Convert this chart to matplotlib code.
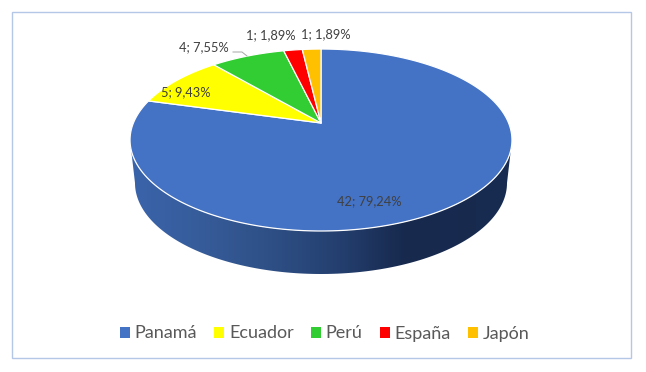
import numpy as np
import matplotlib
matplotlib.use("Agg")
import matplotlib.pyplot as plt
from matplotlib.colors import LinearSegmentedColormap
from matplotlib.patches import Polygon, Rectangle

paises = ["Panamá", "Ecuador", "Perú", "España", "Japón"]
casos = [42, 5, 4, 1, 1]
porcentajes = [79.24, 9.43, 7.55, 1.89, 1.89]
colores = ["#4472C4", "#FFFF00", "#32CD32", "#FF0000", "#FFC000"]

plt.rcParams["font.family"] = ["Lato", "DejaVu Sans"]

fig = plt.figure(figsize=(6.46, 3.72), dpi=100)
ax = fig.add_axes([0, 0, 1, 1])
ax.set_xlim(0, 646)
ax.set_ylim(372, 0)
ax.axis("off")

ax.add_patch(Rectangle((12, 11.5), 619, 346.5, fc="white", ec="#B4C7E7", lw=1))

# perspective of the disc: apex sits above the middle of the ellipse
cx, cy = 321, 123
k = 0.187
A = 87.8
B = 187.6


def proyectar(theta):
    u = np.sin(theta)
    v = np.cos(theta)
    w = 1 + k * v
    return cx + B * u / w, cy - A * v / w


# side wall with horizontal gradient
t = np.linspace(0, np.pi, 200)
top_x = 321 - 191 * np.cos(t)
top_y = 140 + 91 * np.sin(t)
base_x = 321 + 186 * np.cos(t)
base_y = 183 + 91 * np.sin(t)
pared = np.column_stack([np.r_[top_x, base_x], np.r_[top_y, base_y]])
cmap = LinearSegmentedColormap.from_list(
    "pared",
    [(0, "#3A64AB"), (0.18, "#365C9A"), (0.35, "#2F5188"), (0.55, "#243F6F"),
     (0.72, "#17294D"), (1, "#182B50")],
)
img = ax.imshow(
    np.linspace(0, 1, 256)[None, :], cmap=cmap, extent=(130, 512, 280, 135),
    aspect="auto", zorder=2,
)
ax.set_xlim(0, 646)
ax.set_ylim(372, 0)
clip = Polygon(pared, closed=True, transform=ax.transData, fc="none", ec="none")
ax.add_patch(clip)
img.set_clip_path(clip)

# slices go clockwise from twelve o'clock
fin = np.cumsum(casos) / np.sum(casos) * 2 * np.pi
ini = np.r_[0, fin[:-1]]
handles = []
for a, b, color, pais in zip(ini, fin, colores, paises):
    th = np.linspace(a, b, max(int((b - a) * 80), 8))
    xs, ys = proyectar(th)
    pts = np.column_stack([np.r_[cx, xs], np.r_[cy, ys]])
    handles.append(ax.add_patch(Polygon(pts, closed=True, fc=color, ec="white", lw=0.9,
                                        joinstyle="round", zorder=3, label=pais)))

etiquetas = [f"{c}; {p:.2f}%".replace(".", ",") for c, p in zip(casos, porcentajes)]
pos = [(369, 201), (186, 92), (204, 47.5), (271, 35), (326, 34)]
for txt, (x, y) in zip(etiquetas, pos):
    ax.text(x, y, txt, ha="center", va="center", fontsize=9.3, color="#404040", zorder=5)
ax.plot([233, 242, 247], [52, 52, 56], color="#A6A6A6", lw=0.7, zorder=4)

leg = ax.legend(
    handles=handles, loc="center", bbox_to_anchor=(324.5 / 646, 1 - 333.5 / 372),
    ncol=5, frameon=False, fontsize=13, labelcolor="#595959",
    handlelength=0.58, handleheight=0.58, handletextpad=0.25, columnspacing=0.94,
)
for h in leg.get_patches():
    h.set_edgecolor("none")

fig.savefig("out.png", dpi=100)
